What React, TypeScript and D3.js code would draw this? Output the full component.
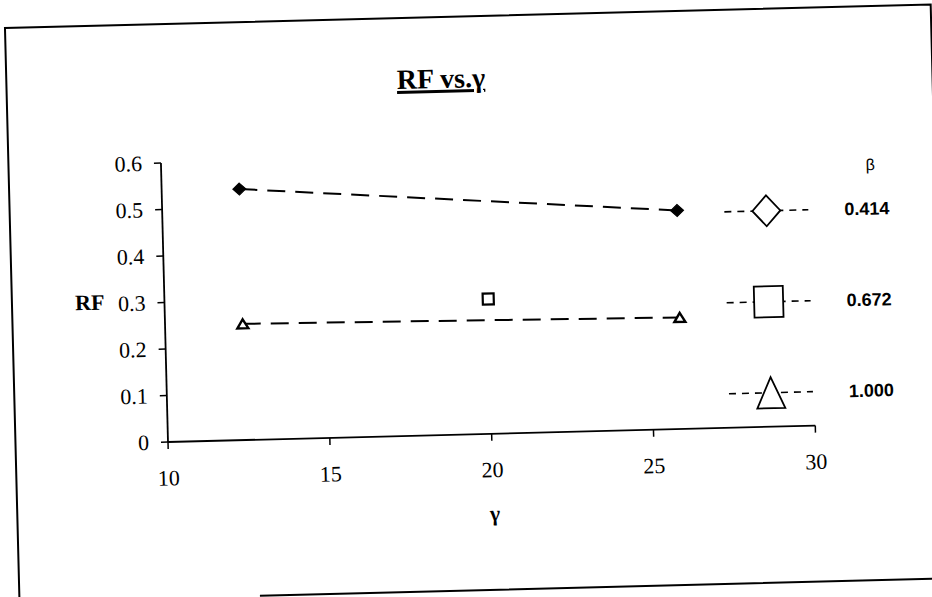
import React from 'react';
import * as d3 from 'd3';

// values (in the chart's own, un-tilted frame)
const gamma414 = [12.4, 25.9];
const rf414 = [0.54, 0.47];
const gamma672 = [20.0];
const rf672 = [0.29];
const gamma1000 = [12.4, 25.9];
const rf1000 = [0.25, 0.24];

const betaLabels = ['0.414', '0.672', '1.000'];
const xTicks = [10, 15, 20, 25, 30];
const yTicks = [0, 0.1, 0.2, 0.3, 0.4, 0.5, 0.6];

const W = 932;
const H = 597;
const serif = '"Liberation Serif", "Times New Roman", serif';
const sans = '"Liberation Sans", Arial, sans-serif';

// marker shapes
const diamondPath = (cx: number, cy: number, w: number, h: number) =>
  `M${cx},${cy - h / 2}L${cx + w / 2},${cy}L${cx},${cy + h / 2}L${cx - w / 2},${cy}Z`;
const squarePath = (cx: number, cy: number, w: number, h: number) =>
  `M${cx - w / 2},${cy - h / 2}H${cx + w / 2}V${cy + h / 2}H${cx - w / 2}Z`;
const trianglePath = (cx: number, cy: number, w: number, h: number) =>
  `M${cx},${cy - h / 2}L${cx + w / 2},${cy + h / 2}L${cx - w / 2},${cy + h / 2}Z`;

const shapes = [diamondPath, squarePath, trianglePath];

export default function App() {
  const x0 = 168;
  const y0 = 442;
  const x = d3.scaleLinear().domain([10, 30]).range([x0, 815.5]);
  const y = d3.scaleLinear().domain([0, 0.6]).range([y0, 163]);

  const line = d3
    .line<[number, number]>()
    .x((d) => x(d[0]))
    .y((d) => y(d[1]));

  const pts414 = gamma414.map((g, i) => [g, rf414[i]] as [number, number]);
  const pts672 = gamma672.map((g, i) => [g, rf672[i]] as [number, number]);
  const pts1000 = gamma1000.map((g, i) => [g, rf1000[i]] as [number, number]);

  // legend layout
  const legX = 772;
  const legTop = 226;
  const legStep = 91;

  // frame (the scanned copy lost the left part of the bottom edge)
  const fL = 15.5, fR = 941.5, fT = 24, fB = 598;

  return (
    <svg
      width={W}
      height={H}
      style={{ position: 'absolute', left: 0, top: 0, background: '#fff' }}
    >
      <rect width={W} height={H} fill="#fff" />
      {/* the scan is tilted slightly counter-clockwise */}
      <g transform={`rotate(-1.45, ${x0}, ${y0})`}>
        <path
          d={`M${fL},${fB}V${fT}H${fR}V${fB}M256,${fB}H${fR}`}
          fill="none"
          stroke="#000"
          strokeWidth={2}
        />

        {/* title */}
        <text
          x={450}
          y={95}
          textAnchor="middle"
          fontFamily={serif}
          fontWeight="bold"
          fontSize={28}
          style={{ textDecoration: 'underline' }}
        >
          RF vs.γ
        </text>

        {/* axes */}
        <line x1={x0} y1={y(0.6)} x2={x0} y2={y0} stroke="#000" strokeWidth={1.8} />
        <line x1={x0} y1={y0} x2={x(30)} y2={y0} stroke="#000" strokeWidth={1.8} />
        {yTicks.map((t) => (
          <g key={'y' + t}>
            <line x1={x0 - 7} x2={x0} y1={y(t)} y2={y(t)} stroke="#000" strokeWidth={1.5} />
            <text x={149} y={y(t) + 7.5} textAnchor="end" fontFamily={serif} fontSize={22}>
              {t === 0 ? '0' : t.toFixed(1)}
            </text>
          </g>
        ))}
        {xTicks.map((t) => (
          <g key={'x' + t}>
            <line x1={x(t)} x2={x(t)} y1={y0} y2={y0 + 7} stroke="#000" strokeWidth={1.5} />
            <text x={x(t)} y={y0 + 43.5} textAnchor="middle" fontFamily={serif} fontSize={22}>
              {t}
            </text>
          </g>
        ))}
        <text x={108} y={308} textAnchor="end" fontFamily={serif} fontWeight="bold" fontSize={22}>
          RF
        </text>
        <text x={493} y={529} textAnchor="middle" fontFamily={serif} fontWeight="bold" fontSize={22}>
          γ
        </text>

        {/* series */}
        <path d={line(pts414) || undefined} fill="none" stroke="#000" strokeWidth={2} strokeDasharray="18,10" />
        <path d={line(pts1000) || undefined} fill="none" stroke="#000" strokeWidth={2} strokeDasharray="18,10" />
        {pts414.map((p, i) => (
          <path key={'d' + i} d={diamondPath(x(p[0]), y(p[1]), 13, 12)} fill="#000" stroke="#000" strokeWidth={1} />
        ))}
        {pts672.map((p, i) => (
          <path key={'s' + i} d={squarePath(x(p[0]), y(p[1]), 11, 11)} fill="#fff" stroke="#000" strokeWidth={2.2} />
        ))}
        {pts1000.map((p, i) => (
          <path key={'t' + i} d={trianglePath(x(p[0]), y(p[1]), 11, 9)} fill="#fff" stroke="#000" strokeWidth={2.4} />
        ))}

        {/* legend */}
        <text x={877} y={188} textAnchor="middle" fontFamily={sans} fontSize={16}>
          β
        </text>
        {betaLabels.map((lab, i) => {
          const cy = legTop + i * legStep;
          const shape = shapes[i];
          return (
            <g key={lab}>
              <line
                x1={legX - 42}
                x2={legX + 42}
                y1={cy}
                y2={cy}
                stroke="#000"
                strokeWidth={1.6}
                strokeDasharray="7,6"
              />
              <path d={shape(legX, cy, i === 1 ? 29 : 28, 31)} fill="#fff" stroke="#000" strokeWidth={1.8} />
              <text x={850} y={cy + 6.5} fontFamily={sans} fontWeight="bold" fontSize={18}>
                {lab}
              </text>
            </g>
          );
        })}
      </g>
    </svg>
  );
}
